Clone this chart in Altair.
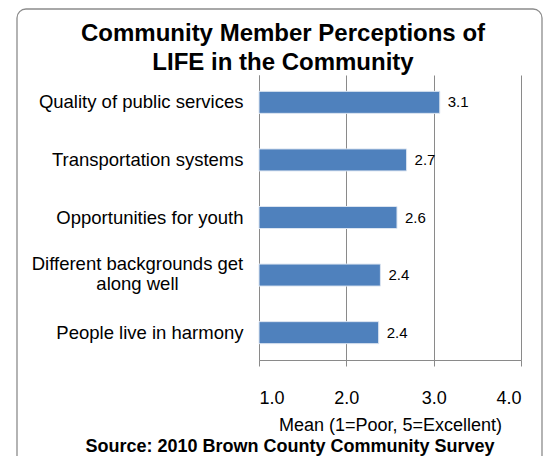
import altair as alt
import pandas as pd

# ---- data ----
categories = [
    "Quality of public services",
    "Transportation systems",
    "Opportunities for youth",
    "Different backgrounds get along well",
    "People live in harmony",
]
means = [3.07, 2.69, 2.58, 2.39, 2.37]
x_ticks = [1.0, 2.0, 3.0, 4.0]
title_lines = ["Community Member Perceptions of", "LIFE in the Community"]
wrapped_label = ["Different backgrounds get", "along well"]
x_title = "Mean (1=Poor, 5=Excellent)"
source_text = "Source: 2010 Brown County Community Survey"

df = pd.DataFrame({"category": categories, "mean": means})

FONT = "Liberation Sans"
GRID = "#8a8a8a"
BAR = "#4F81BD"
LBL = 18.5

label_expr = (
    "datum.label == 'Different backgrounds get along well' ? '' : datum.label"
)

y_enc = alt.Y(
    "category:N",
    sort=categories,
    scale=alt.Scale(paddingInner=0.61, paddingOuter=0.28),
    axis=alt.Axis(
        title=None,
        ticks=False,
        domain=True,
        domainColor=GRID,
        labelFontSize=LBL,
        labelColor="#000000",
        labelPadding=16,
        labelLimit=400,
        labelExpr=label_expr,
        grid=False,
    ),
)

x_scale = alt.Scale(domain=[1, 4], zero=False, nice=False)

bars = alt.Chart(df).mark_bar(
    color=BAR, size=22, stroke="#dbe4f0", strokeWidth=1
).encode(
    y=y_enc,
    x=alt.X(
        "mean:Q",
        scale=x_scale,
        axis=alt.Axis(
            values=x_ticks,
            format=".1f",
            title=x_title,
            titleFontSize=18,
            titleFontWeight="normal",
            titleColor="#000000",
            titlePadding=9,
            labelFontSize=18,
            labelColor="#000000",
            labelPadding=23,
            ticks=True,
            tickSize=6,
            tickColor=GRID,
            domain=True,
            domainColor=GRID,
            grid=True,
            gridColor=GRID,
            gridOpacity=1,
            gridWidth=1,
        ),
    ),
    x2=alt.datum(1.0),
)

labels = alt.Chart(df).mark_text(
    align="left", baseline="middle", dx=8, fontSize=15, color="#000000"
).encode(
    y=alt.Y("category:N", sort=categories),
    x=alt.X("mean:Q", scale=x_scale),
    text=alt.Text("mean:Q", format=".1f"),
)

wrapped = alt.Chart(df).transform_filter(
    alt.datum.category == categories[3]
).mark_text(
    text=wrapped_label, align="center", baseline="middle", fontSize=LBL,
    lineHeight=20, dy=-11, color="#000000"
).encode(
    y=alt.Y("category:N", sort=categories),
    x=alt.value(-121.5),
)

one = alt.Data(values=[{}])

border = alt.Chart(one).mark_rect(
    fill="transparent", stroke="#8c8c8c", strokeWidth=1.3, cornerRadius=9
).encode(
    x=alt.value(-242), x2=alt.value(283), y=alt.value(-66), y2=alt.value(420)
)

title1 = alt.Chart(one).mark_text(
    text=title_lines[0], fontSize=24, fontWeight="bold", align="center",
    baseline="middle", color="#000000"
).encode(x=alt.value(24), y=alt.value(-41.5))

title2 = alt.Chart(one).mark_text(
    text=title_lines[1], fontSize=24, fontWeight="bold", align="center",
    baseline="middle", color="#000000"
).encode(x=alt.value(24), y=alt.value(-12.3))

source = alt.Chart(one).mark_text(
    text=source_text, fontSize=18, fontWeight="bold", align="center",
    baseline="middle", color="#000000"
).encode(x=alt.value(31), y=alt.value(371.5))

chart = alt.layer(border, bars, labels, wrapped, title1, title2, source).properties(
    width=262,
    height=285,
    padding={"left": 251, "top": 67, "right": 22, "bottom": 96},
    autosize=alt.AutoSizeParams(type="none"),
).configure(font=FONT).configure_view(stroke=None)

chart.save("out.html", embed_options={"renderer": "svg", "actions": False})
